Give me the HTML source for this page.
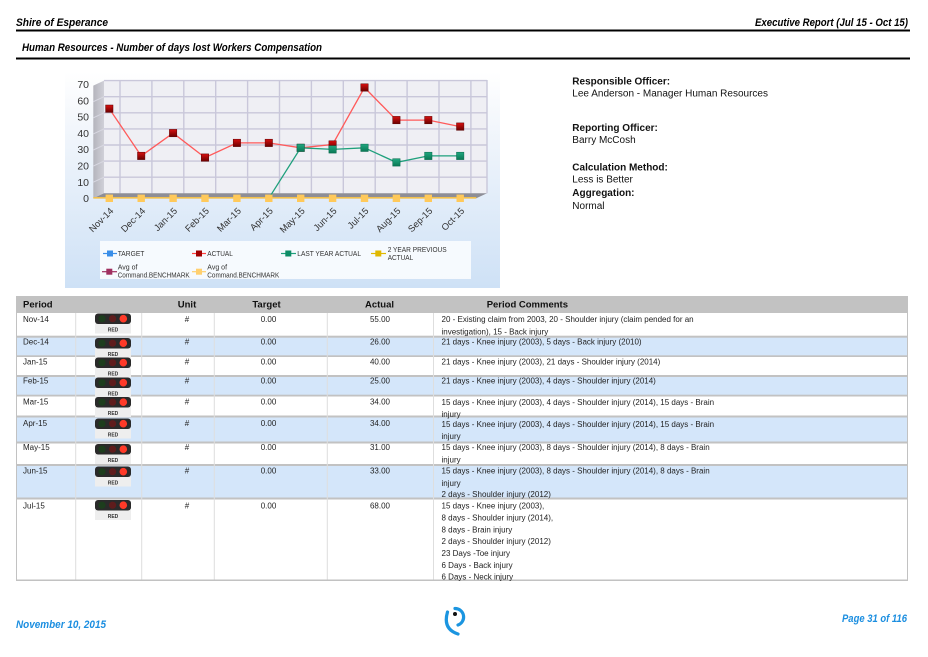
<!DOCTYPE html>
<html><head><meta charset="utf-8"><style>
html,body{margin:0;padding:0;background:#fff;width:928px;height:657px;overflow:hidden}
svg{display:block}
text{font-family:"Liberation Sans",Arial,sans-serif}
</style></head><body>
<svg width="928" height="657" viewBox="0 0 928 657" xmlns="http://www.w3.org/2000/svg">
<defs>
<linearGradient id="bg" x1="0" y1="0" x2="0" y2="1"><stop offset="0" stop-color="#ffffff"/><stop offset="0.2" stop-color="#f5f8fc"/><stop offset="1" stop-color="#cee1f6"/></linearGradient>
<linearGradient id="rg" x1="0" y1="0" x2="0" y2="1"><stop offset="0" stop-color="#d81010"/><stop offset="1" stop-color="#6a0000"/></linearGradient>
<linearGradient id="gg" x1="0" y1="0" x2="0" y2="1"><stop offset="0" stop-color="#20a880"/><stop offset="1" stop-color="#0a7855"/></linearGradient>
<linearGradient id="wall" x1="0" y1="0" x2="1" y2="0"><stop offset="0" stop-color="#b4b4bc"/><stop offset="1" stop-color="#d0d0d8"/></linearGradient>
<g id="tl">
<rect x="0" y="10" width="36" height="10" fill="#eeeeee"/>
<rect x="0" y="0" width="36" height="10.5" rx="3" fill="#2a2a2a"/>
<circle cx="7" cy="5.2" r="3.6" fill="#1d3d1d"/>
<circle cx="17.6" cy="5.2" r="3.6" fill="#5e1c1c"/>
<circle cx="28.3" cy="5.2" r="3.8" fill="#ff3a28"/>
<text x="18" y="17.8" font-size="5" text-anchor="middle" fill="#333" font-weight="bold">RED</text>
</g>
</defs>

<!-- Header -->
<text x="16" y="26" font-size="11" font-weight="bold" font-style="italic" fill="#000" textLength="92" lengthAdjust="spacingAndGlyphs">Shire of Esperance</text>
<text x="755" y="26" font-size="11" font-weight="bold" font-style="italic" fill="#000" textLength="153" lengthAdjust="spacingAndGlyphs">Executive Report (Jul 15 - Oct 15)</text>
<rect x="16" y="29.5" width="894" height="2" fill="#000"/>
<text x="22" y="51" font-size="11" font-weight="bold" font-style="italic" fill="#000" textLength="300" lengthAdjust="spacingAndGlyphs">Human Resources - Number of days lost Workers Compensation</text>
<rect x="16" y="57.5" width="894" height="2" fill="#000"/>

<!-- Chart background -->
<rect x="65" y="72" width="435" height="216" fill="url(#bg)"/>

<!-- back plane -->
<rect x="104" y="80" width="383" height="113.3" fill="#efeff4"/>
<g stroke="#c9c7da" stroke-width="1.4" fill="none">
<line x1="104" y1="80.6" x2="487" y2="80.6"/>
<line x1="104" y1="96.7" x2="487" y2="96.7"/>
<line x1="104" y1="112.8" x2="487" y2="112.8"/>
<line x1="104" y1="128.9" x2="487" y2="128.9"/>
<line x1="104" y1="145" x2="487" y2="145"/>
<line x1="104" y1="161.1" x2="487" y2="161.1"/>
<line x1="104" y1="177.2" x2="487" y2="177.2"/>
<line x1="120" y1="80" x2="120" y2="193.3"/>
<line x1="151.9" y1="80" x2="151.9" y2="193.3"/>
<line x1="183.8" y1="80" x2="183.8" y2="193.3"/>
<line x1="215.7" y1="80" x2="215.7" y2="193.3"/>
<line x1="247.6" y1="80" x2="247.6" y2="193.3"/>
<line x1="279.5" y1="80" x2="279.5" y2="193.3"/>
<line x1="311.4" y1="80" x2="311.4" y2="193.3"/>
<line x1="343.3" y1="80" x2="343.3" y2="193.3"/>
<line x1="375.2" y1="80" x2="375.2" y2="193.3"/>
<line x1="407.1" y1="80" x2="407.1" y2="193.3"/>
<line x1="439" y1="80" x2="439" y2="193.3"/>
<line x1="470.9" y1="80" x2="470.9" y2="193.3"/>
<line x1="487" y1="80" x2="487" y2="193.3"/>
</g>
<!-- left wall -->
<polygon points="93.3,85.6 104,80.6 104,193.3 93.3,198.3" fill="url(#wall)"/>
<g stroke="#d8d8e2" stroke-width="1" fill="none">
<line x1="93.3" y1="101.7" x2="104" y2="96.7"/>
<line x1="93.3" y1="117.8" x2="104" y2="112.8"/>
<line x1="93.3" y1="133.9" x2="104" y2="128.9"/>
<line x1="93.3" y1="150" x2="104" y2="145"/>
<line x1="93.3" y1="166.1" x2="104" y2="161.1"/>
<line x1="93.3" y1="182.2" x2="104" y2="177.2"/>
</g>
<!-- floor -->
<polygon points="93.3,198.3 104,193.3 487,193.3 476.3,198.3" fill="#8e8e96"/>
<line x1="93.3" y1="197.8" x2="476.3" y2="197.8" stroke="#f2c04c" stroke-width="1.6"/>

<!-- Y labels -->
<g font-size="10.5" fill="#333" text-anchor="end">
<text x="89" y="88">70</text>
<text x="89" y="104.3">60</text>
<text x="89" y="120.6">50</text>
<text x="89" y="136.9">40</text>
<text x="89" y="153.2">30</text>
<text x="89" y="169.5">20</text>
<text x="89" y="185.8">10</text>
<text x="89" y="202.1">0</text>
</g>

<!-- X labels -->
<g font-size="9.3" fill="#333" text-anchor="end">
<text transform="translate(114,211.5) rotate(-45)">Nov-14</text>
<text transform="translate(145.9,211.5) rotate(-45)">Dec-14</text>
<text transform="translate(177.8,211.5) rotate(-45)">Jan-15</text>
<text transform="translate(209.7,211.5) rotate(-45)">Feb-15</text>
<text transform="translate(241.6,211.5) rotate(-45)">Mar-15</text>
<text transform="translate(273.5,211.5) rotate(-45)">Apr-15</text>
<text transform="translate(305.4,211.5) rotate(-45)">May-15</text>
<text transform="translate(337.3,211.5) rotate(-45)">Jun-15</text>
<text transform="translate(369.2,211.5) rotate(-45)">Jul-15</text>
<text transform="translate(401.1,211.5) rotate(-45)">Aug-15</text>
<text transform="translate(433,211.5) rotate(-45)">Sep-15</text>
<text transform="translate(464.9,211.5) rotate(-45)">Oct-15</text>
</g>

<!-- Red series -->
<polyline fill="none" stroke="#ff5a5a" stroke-width="1.3" points="109.3,108.7 141.2,155.9 173.1,133.1 205,157.6 236.9,142.9 268.8,142.9 300.7,147.8 332.6,144.5 364.5,87.5 396.4,120.1 428.3,120.1 460.2,126.6"/>
<g fill="url(#rg)" stroke="#5a0000" stroke-width="0.5">
<rect x="105.6" y="105" width="7.4" height="7.4"/>
<rect x="137.5" y="152.2" width="7.4" height="7.4"/>
<rect x="169.4" y="129.4" width="7.4" height="7.4"/>
<rect x="201.3" y="153.9" width="7.4" height="7.4"/>
<rect x="233.2" y="139.2" width="7.4" height="7.4"/>
<rect x="265.1" y="139.2" width="7.4" height="7.4"/>
<rect x="297" y="144.1" width="7.4" height="7.4"/>
<rect x="328.9" y="140.8" width="7.4" height="7.4"/>
<rect x="360.8" y="83.8" width="7.4" height="7.4"/>
<rect x="392.7" y="116.4" width="7.4" height="7.4"/>
<rect x="424.6" y="116.4" width="7.4" height="7.4"/>
<rect x="456.5" y="122.9" width="7.4" height="7.4"/>
</g>

<!-- Green series -->
<polyline fill="none" stroke="#1fa07c" stroke-width="1.3" points="268.8,198.3 300.7,147.8 332.6,149.4 364.5,147.8 396.4,162.4 428.3,155.9 460.2,155.9"/>
<g fill="url(#gg)" stroke="#06684a" stroke-width="0.5">
<rect x="297" y="144.1" width="7.4" height="7.4"/>
<rect x="328.9" y="145.7" width="7.4" height="7.4"/>
<rect x="360.8" y="144.1" width="7.4" height="7.4"/>
<rect x="392.7" y="158.7" width="7.4" height="7.4"/>
<rect x="424.6" y="152.2" width="7.4" height="7.4"/>
<rect x="456.5" y="152.2" width="7.4" height="7.4"/>
</g>

<!-- Orange benchmark markers -->
<g fill="#ffc95a">
<rect x="105.6" y="194.6" width="7.4" height="7.4"/>
<rect x="137.5" y="194.6" width="7.4" height="7.4"/>
<rect x="169.4" y="194.6" width="7.4" height="7.4"/>
<rect x="201.3" y="194.6" width="7.4" height="7.4"/>
<rect x="233.2" y="194.6" width="7.4" height="7.4"/>
<rect x="265.1" y="194.6" width="7.4" height="7.4"/>
<rect x="297" y="194.6" width="7.4" height="7.4"/>
<rect x="328.9" y="194.6" width="7.4" height="7.4"/>
<rect x="360.8" y="194.6" width="7.4" height="7.4"/>
<rect x="392.7" y="194.6" width="7.4" height="7.4"/>
<rect x="424.6" y="194.6" width="7.4" height="7.4"/>
<rect x="456.5" y="194.6" width="7.4" height="7.4"/>
</g>

<!-- Legend -->
<rect x="100" y="241" width="371" height="38" fill="#fafcfe" opacity="0.9"/>
<g stroke-width="1.2">
<line x1="103" y1="253.5" x2="117" y2="253.5" stroke="#3a8ee8"/>
<rect x="107" y="250.5" width="6" height="6" fill="#3a8ee8"/>
<line x1="192" y1="253.5" x2="206" y2="253.5" stroke="#ff4040"/>
<rect x="196" y="250.5" width="6" height="6" fill="#a00000"/>
<line x1="281" y1="253.5" x2="296" y2="253.5" stroke="#1fa07c"/>
<rect x="285.3" y="250.5" width="6" height="6" fill="#0d8c66"/>
<line x1="371" y1="253.5" x2="386" y2="253.5" stroke="#e0b800"/>
<rect x="375.3" y="250.5" width="6" height="6" fill="#e0b800"/>
<line x1="102" y1="271.7" x2="117" y2="271.7" stroke="#a03060"/>
<rect x="106.3" y="268.7" width="6" height="6" fill="#a03060"/>
<line x1="192" y1="271.7" x2="206" y2="271.7" stroke="#ffd070"/>
<rect x="196" y="268.7" width="6" height="6" fill="#ffd070"/>
</g>
<g font-size="7" fill="#333">
<text x="117.7" y="256.2" textLength="26.7" lengthAdjust="spacingAndGlyphs">TARGET</text>
<text x="207.3" y="256.2" textLength="25.5" lengthAdjust="spacingAndGlyphs">ACTUAL</text>
<text x="297.3" y="256.2" textLength="63.7" lengthAdjust="spacingAndGlyphs">LAST YEAR ACTUAL</text>
<text x="387.7" y="252" textLength="59" lengthAdjust="spacingAndGlyphs">2 YEAR PREVIOUS</text>
<text x="387.7" y="260.2" textLength="25.5" lengthAdjust="spacingAndGlyphs">ACTUAL</text>
<text x="117.7" y="269.4">Avg of</text>
<text x="117.7" y="277.7" textLength="72" lengthAdjust="spacingAndGlyphs">Command.BENCHMARK</text>
<text x="207.3" y="269.4">Avg of</text>
<text x="207.3" y="277.7" textLength="72" lengthAdjust="spacingAndGlyphs">Command.BENCHMARK</text>
</g>

<!-- Right info panel -->
<g font-size="10" fill="#111">
<text x="572.3" y="84.5" font-weight="bold">Responsible Officer:</text>
<text x="572.3" y="96.5">Lee Anderson - Manager Human Resources</text>
<text x="572.3" y="131.2" font-weight="bold">Reporting Officer:</text>
<text x="572.3" y="143.2">Barry McCosh</text>
<text x="572.3" y="170.5" font-weight="bold">Calculation Method:</text>
<text x="572.3" y="182.5">Less is Better</text>
<text x="572.3" y="196.2" font-weight="bold">Aggregation:</text>
<text x="572.3" y="208.9">Normal</text>
</g>

<!-- Table -->
<rect x="16" y="296" width="892" height="285" fill="#c2c2c2"/>
<rect x="17" y="313" width="890" height="22.7" fill="#ffffff"/>
<rect x="17" y="337.7" width="890" height="17.6" fill="#d4e6fa"/>
<rect x="17" y="357" width="890" height="18" fill="#ffffff"/>
<rect x="17" y="377" width="890" height="17.7" fill="#d4e6fa"/>
<rect x="17" y="396.5" width="890" height="19" fill="#ffffff"/>
<rect x="17" y="417.5" width="890" height="24" fill="#d4e6fa"/>
<rect x="17" y="443.5" width="890" height="20.5" fill="#ffffff"/>
<rect x="17" y="466" width="890" height="31.5" fill="#d4e6fa"/>
<rect x="17" y="499.5" width="890" height="80" fill="#ffffff"/>
<g stroke="#dedede" stroke-width="1">
<line x1="75.7" y1="313" x2="75.7" y2="579.5"/>
<line x1="141.7" y1="313" x2="141.7" y2="579.5"/>
<line x1="214.3" y1="313" x2="214.3" y2="579.5"/>
<line x1="327.3" y1="313" x2="327.3" y2="579.5"/>
<line x1="433.5" y1="313" x2="433.5" y2="579.5"/>
</g>
<g font-size="9.5" font-weight="bold" fill="#111">
<text x="23" y="307.5">Period</text>
<text x="187" y="307.5" text-anchor="middle">Unit</text>
<text x="266.5" y="307.5" text-anchor="middle">Target</text>
<text x="379.5" y="307.5" text-anchor="middle">Actual</text>
<text x="486.7" y="307.5">Period Comments</text>
</g>

<use href="#tl" x="95" y="313.5"/>
<use href="#tl" x="95" y="338"/>
<use href="#tl" x="95" y="357.5"/>
<use href="#tl" x="95" y="377.5"/>
<use href="#tl" x="95" y="397"/>
<use href="#tl" x="95" y="418.5"/>
<use href="#tl" x="95" y="444"/>
<use href="#tl" x="95" y="466.5"/>
<use href="#tl" x="95" y="500"/>

<g font-size="8" fill="#222">
<text x="23" y="322.2">Nov-14</text><text x="187" y="322.2" text-anchor="middle">#</text><text x="268.5" y="322.2" text-anchor="middle">0.00</text><text x="380" y="322.2" text-anchor="middle">55.00</text>
<text x="441.5" y="322.2">20 - Existing claim from 2003, 20 - Shoulder injury (claim pended for an</text>
<text x="441.5" y="334.6">investigation), 15 - Back injury</text>
<text x="23" y="344.4">Dec-14</text><text x="187" y="344.4" text-anchor="middle">#</text><text x="268.5" y="344.4" text-anchor="middle">0.00</text><text x="380" y="344.4" text-anchor="middle">26.00</text>
<text x="441.5" y="344.4">21 days - Knee injury (2003), 5 days - Back injury (2010)</text>
<text x="23" y="364.4">Jan-15</text><text x="187" y="364.4" text-anchor="middle">#</text><text x="268.5" y="364.4" text-anchor="middle">0.00</text><text x="380" y="364.4" text-anchor="middle">40.00</text>
<text x="441.5" y="364.4">21 days - Knee injury (2003), 21 days - Shoulder injury (2014)</text>
<text x="23" y="383.6">Feb-15</text><text x="187" y="383.6" text-anchor="middle">#</text><text x="268.5" y="383.6" text-anchor="middle">0.00</text><text x="380" y="383.6" text-anchor="middle">25.00</text>
<text x="441.5" y="383.6">21 days - Knee injury (2003), 4 days - Shoulder injury (2014)</text>
<text x="23" y="404.6">Mar-15</text><text x="187" y="404.6" text-anchor="middle">#</text><text x="268.5" y="404.6" text-anchor="middle">0.00</text><text x="380" y="404.6" text-anchor="middle">34.00</text>
<text x="441.5" y="405">15 days - Knee injury (2003), 4 days - Shoulder injury (2014), 15 days - Brain</text>
<text x="441.5" y="416.8">injury</text>
<text x="23" y="426">Apr-15</text><text x="187" y="426" text-anchor="middle">#</text><text x="268.5" y="426" text-anchor="middle">0.00</text><text x="380" y="426" text-anchor="middle">34.00</text>
<text x="441.5" y="427">15 days - Knee injury (2003), 4 days - Shoulder injury (2014), 15 days - Brain</text>
<text x="441.5" y="438.8">injury</text>
<text x="23" y="450.2">May-15</text><text x="187" y="450.2" text-anchor="middle">#</text><text x="268.5" y="450.2" text-anchor="middle">0.00</text><text x="380" y="450.2" text-anchor="middle">31.00</text>
<text x="441.5" y="450.2">15 days - Knee injury (2003), 8 days - Shoulder injury (2014), 8 days - Brain</text>
<text x="441.5" y="462.6">injury</text>
<text x="23" y="473.6">Jun-15</text><text x="187" y="473.6" text-anchor="middle">#</text><text x="268.5" y="473.6" text-anchor="middle">0.00</text><text x="380" y="473.6" text-anchor="middle">33.00</text>
<text x="441.5" y="473.6">15 days - Knee injury (2003), 8 days - Shoulder injury (2014), 8 days - Brain</text>
<text x="441.5" y="486.2">injury</text>
<text x="441.5" y="497.2">2 days - Shoulder injury  (2012)</text>
<text x="23" y="508.6">Jul-15</text><text x="187" y="508.6" text-anchor="middle">#</text><text x="268.5" y="508.6" text-anchor="middle">0.00</text><text x="380" y="508.6" text-anchor="middle">68.00</text>
<text x="441.5" y="508.6">15 days - Knee injury (2003),</text>
<text x="441.5" y="520.4">8 days - Shoulder injury (2014),</text>
<text x="441.5" y="532.3">8 days - Brain injury</text>
<text x="441.5" y="544.1">2 days - Shoulder injury  (2012)</text>
<text x="441.5" y="555.9">23 Days -Toe injury</text>
<text x="441.5" y="567.8">6 Days - Back injury</text>
<text x="441.5" y="579.6">6 Days - Neck injury</text>
</g>

<!-- Footer -->
<text x="16" y="628" font-size="11" font-weight="bold" font-style="italic" fill="#1b8ee0" textLength="90" lengthAdjust="spacingAndGlyphs">November 10, 2015</text>
<text x="842" y="622" font-size="11" font-weight="bold" font-style="italic" fill="#1b8ee0" textLength="65" lengthAdjust="spacingAndGlyphs">Page 31 of 116</text>
<g fill="none" stroke="#1b95e0" stroke-width="3.2" stroke-linecap="round">
<path d="M447.5,612 Q442.5,629 458,634"/>
<path d="M455,608.5 A8.5 8.5 0 0 1 458,625"/>
</g>
<circle cx="455" cy="614" r="2" fill="#111"/>
</svg>
</body></html>
